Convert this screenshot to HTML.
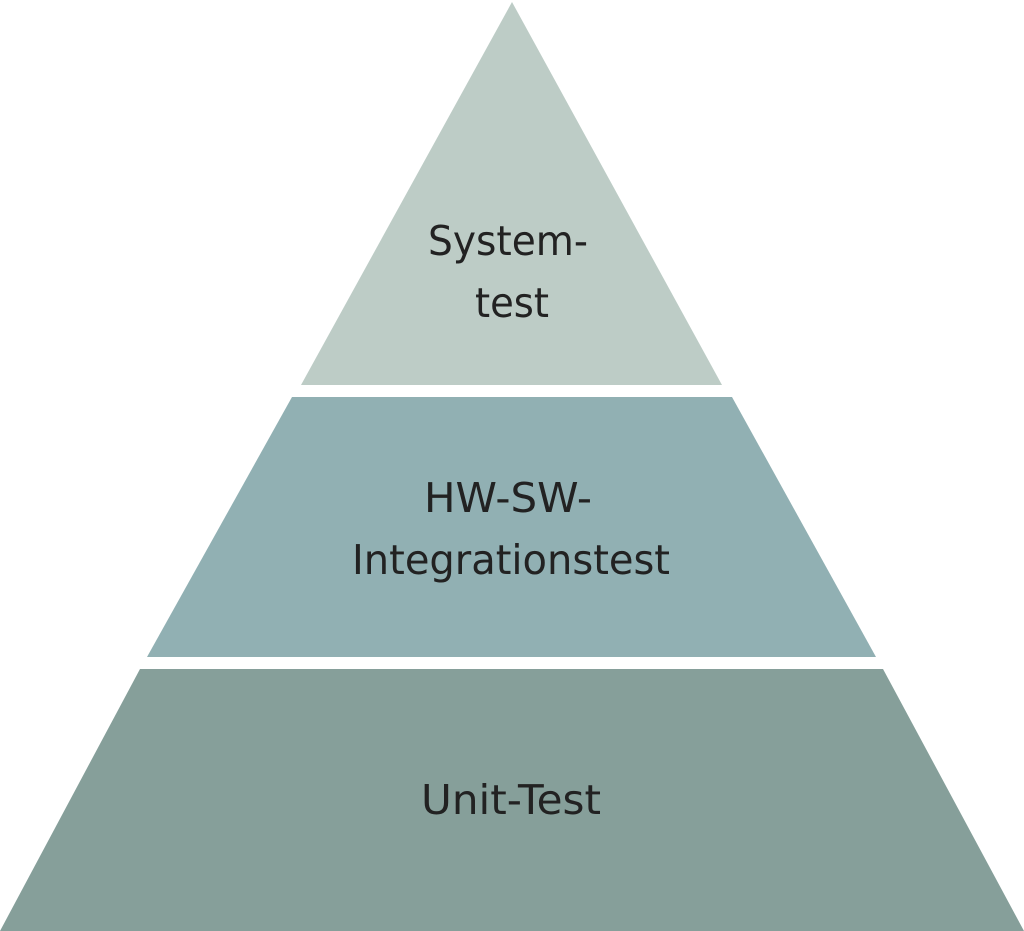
<!DOCTYPE html>
<html><head><style>
html,body{margin:0;padding:0;background:#fff;}
</style></head><body>
<svg width="1024" height="931" viewBox="0 0 1024 931" xmlns="http://www.w3.org/2000/svg" style="display:block">
<polygon points="512,2 722,385 301,385" fill="#bdccc6"/>
<polygon points="292,397 732,397 876,657 147,657" fill="#91b0b3"/>
<polygon points="140,669 883,669 1024,931 0,931" fill="#869f9a"/>
<g font-family="'DejaVu Sans','Liberation Sans',sans-serif" font-size="41" fill="#222" text-anchor="middle">
<text x="508" y="255" textLength="160" lengthAdjust="spacingAndGlyphs">System-</text>
<text x="512" y="317" textLength="74" lengthAdjust="spacingAndGlyphs">test</text>
<text x="508" y="512" textLength="168" lengthAdjust="spacingAndGlyphs">HW-SW-</text>
<text x="511" y="574" textLength="318" lengthAdjust="spacingAndGlyphs">Integrationstest</text>
<text x="511" y="814" textLength="180" lengthAdjust="spacingAndGlyphs">Unit-Test</text>
</g>
</svg>
</body></html>
